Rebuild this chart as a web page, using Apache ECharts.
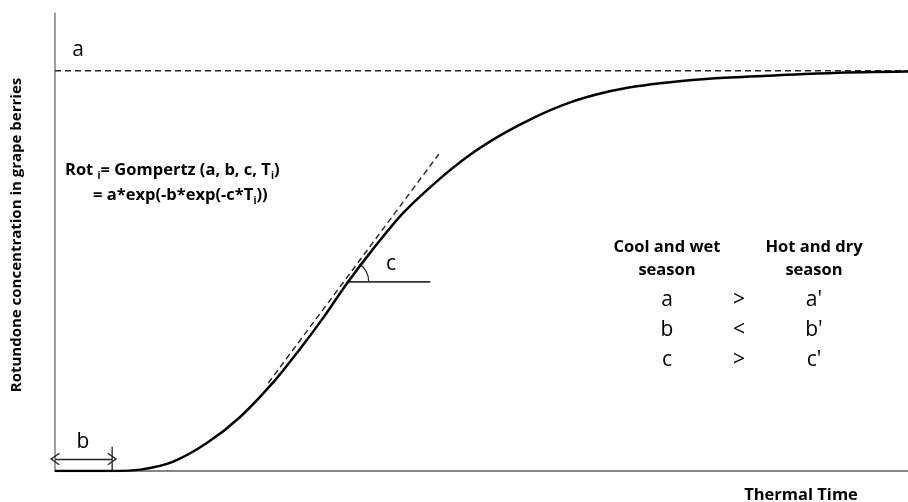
<!DOCTYPE html>
<html>
<head>
<meta charset="utf-8">
<script src="https://cdn.jsdelivr.net/npm/echarts@6/dist/echarts.min.js"></script>
<style>
  html, body { margin: 0; padding: 0; background: #fff; }
  #main { width: 908px; height: 502px; }
</style>
</head>
<body>
<div id="main"></div>
<script>
// Gompertz curve (thermal time 0-100, concentration 0-100)
const thermalTime = [0, 6.7, 10.0, 13.8, 17.8, 21.7, 25.6, 28.7, 31.5, 34.2, 37.3, 40.8, 44.8, 48.7, 52.5, 56.4, 60.4, 64.3, 68.2, 72.1, 77.0, 83.5, 91.2, 100];
const rotundone   = [0, 0, 0.3, 2.0, 6.1, 11.8, 19.4, 26.6, 33.6, 40.9, 48.5, 56.3, 63.3, 69.1, 73.6, 77.4, 80.5, 82.6, 84.0, 84.9, 85.7, 86.3, 86.9, 87.2];

// asymptote a
const aLevel = 87.4;
// tangent (slope c) and its horizontal reference
const tangentX = [25.0, 45.0];
const tangentY = [19.2, 69.2];
const touchPoint = [34.2, 41.3];
const horizEndX = 44.0;
// lag b
const bLag = 6.7;
const bArrowY = 2.6;
const bTickTop = 5.3;

// comparison table
const tableHead = [['Cool and wet', 'season'], ['Hot and dry', 'season']];
const tableLeft = ['a', 'b', 'c'];
const tableSign = ['>', '<', '>'];
const tableRight = ["a'", "b'", "c'"];

const FONT = '"Open Sans", "Liberation Sans", sans-serif';
const chevron = 'path://M0,0 L10,9 L9,10.5 L0,2.4 L-9,10.5 L-10,9 Z';

var myChart = echarts.init(document.getElementById('main'));

var seriesOption = [
  // Gompertz curve
  {
    type: 'line',
    data: thermalTime.map((t, i) => [t, rotundone[i]]),
    smooth: 0.3,
    symbol: 'none',
    lineStyle: { color: '#000', width: 2.5 },
    z: 5,
  },
  // asymptote
  {
    type: 'line',
    data: [[0, aLevel], [100, aLevel]],
    symbol: 'none',
    lineStyle: { color: '#222', width: 1.5, type: [6, 4] },
  },
  // tangent
  {
    type: 'line',
    data: [[tangentX[0], tangentY[0]], [tangentX[1], tangentY[1]]],
    symbol: 'none',
    lineStyle: { color: '#222', width: 1.4, type: [6, 4] },
  },
  // horizontal reference
  {
    type: 'line',
    data: [touchPoint, [horizEndX, touchPoint[1]]],
    symbol: 'none',
    lineStyle: { color: '#333', width: 1.6 },
  },
  // b tick + arrow
  {
    type: 'line',
    data: [[bLag, 0], [bLag, bTickTop]],
    symbol: 'none',
    lineStyle: { color: '#222', width: 1.3 },
    markLine: {
      silent: true,
      symbol: [chevron, chevron],
      symbolSize: [12, 10],
      lineStyle: { color: '#222', width: 1.3, type: 'solid' },
      label: { show: false },
      data: [[{ coord: [0, bArrowY] }, { coord: [bLag, bArrowY] }]],
    },
  },
  // angle arc for c
  {
    type: 'custom',
    data: [touchPoint],
    renderItem: function (params, api) {
      var p = api.coord([api.value(0), api.value(1)]);
      var q = api.coord([tangentX[1], tangentY[1]]);
      var ang = Math.atan2(q[1] - p[1], q[0] - p[0]);
      return {
        type: 'arc',
        shape: { cx: p[0], cy: p[1], r: 22, startAngle: ang, endAngle: 0, clockwise: true },
        style: { stroke: '#222', lineWidth: 1.3, fill: null },
      };
    },
  },
];

function label(x, y, text, font) {
  return { type: 'text', x: x, y: y, style: { text: text, font: font, align: 'center', verticalAlign: 'middle', fill: '#000' } };
}

var tableText = [];
[667, 814].forEach(function (x, k) {
  tableText.push(label(x, 247, tableHead[k][0], 'bold 16.5px ' + FONT));
  tableText.push(label(x, 270, tableHead[k][1], 'bold 16.5px ' + FONT));
});
tableLeft.forEach(function (v, i) {
  var y = 300 + i * 30;
  tableText.push(label(667, y, v, '21px ' + FONT));
  tableText.push(label(739, y, tableSign[i], '21px ' + FONT));
  tableText.push(label(814, y, tableRight[i], '21px ' + FONT));
});

var formulaRich = {
  b: { fontFamily: FONT, fontWeight: 'bold', fontSize: 16.5, lineHeight: 22, verticalAlign: 'middle', fill: '#000' },
  s: { fontFamily: FONT, fontWeight: 'bold', fontSize: 10, lineHeight: 22, verticalAlign: 'bottom', fill: '#000' },
};

myChart.setOption({
  animation: false,
  grid: { left: 55, top: 13, right: 0, bottom: 31 },
  xAxis: [
    {
      type: 'value', min: 0, max: 100,
      axisLine: { show: true, onZero: false, lineStyle: { color: '#7f7f7f', width: 1.5 } },
      axisTick: { show: false }, axisLabel: { show: false }, splitLine: { show: false },
    },
    {
      type: 'value', min: 0, max: 100, position: 'top',
      axisLine: { show: true, lineStyle: { color: '#7f7f7f', width: 1.5 } },
      axisTick: { show: false }, axisLabel: { show: false }, splitLine: { show: false },
    },
  ],
  yAxis: {
    type: 'value', min: 0, max: 100,
    name: 'Rotundone concentration in grape berries',
    nameLocation: 'middle',
    nameGap: 31,
    nameTextStyle: { fontFamily: FONT, fontWeight: 'bold', fontSize: 15, color: '#000', padding: [0, 0, 0, 14] },
    axisLine: { show: true, lineStyle: { color: '#7f7f7f', width: 1.5 } },
    axisTick: { show: false }, axisLabel: { show: false }, splitLine: { show: false },
  },
  graphic: [
    label(78, 50, 'a', '21px ' + FONT),
    label(83, 442, 'b', '21px ' + FONT),
    label(391, 264, 'c', '21px ' + FONT),
    { type: 'text', x: 65, y: 159, style: { text: '{b|Rot }{s|i}{b|= Gompertz (a, b, c, T}{s|i}{b|)}', rich: formulaRich } },
    { type: 'text', x: 93, y: 184, style: { text: '{b|= a*exp(-b*exp(-c*T}{s|i}{b|))}', rich: formulaRich } },
    label(801, 495, 'Thermal Time', 'bold 16.5px ' + FONT),
  ].concat(tableText),
  series: seriesOption,
});
</script>
</body>
</html>
